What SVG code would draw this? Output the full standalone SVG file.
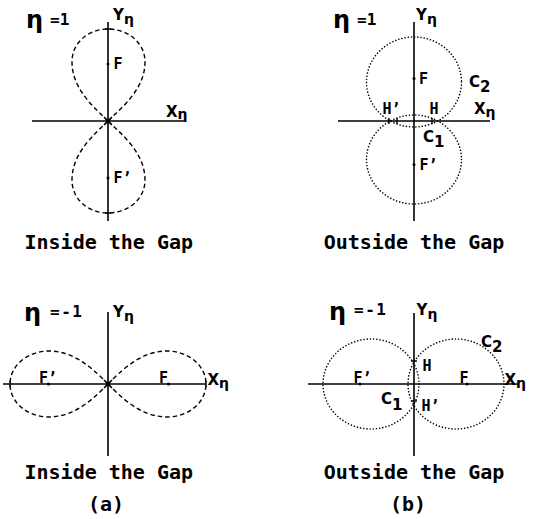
<svg xmlns="http://www.w3.org/2000/svg" width="536" height="519" viewBox="0 0 536 519">
<style>
.ax{stroke:#000;stroke-width:1.6;fill:none}
.tk{stroke:#000;stroke-width:1.4;fill:none}
.dash{stroke:#000;stroke-width:1.4;fill:none;stroke-dasharray:4.5 3}
.dot{stroke:#000;stroke-width:1.6;fill:none;stroke-dasharray:0.01 3.2;stroke-linecap:round}
.cap{font-family:"DejaVu Sans Mono","Liberation Mono",monospace;font-weight:bold;font-size:20px;fill:#000}
.lbl{font-family:"DejaVu Sans","Liberation Sans",sans-serif;font-weight:bold;font-size:15px;fill:#000}
.pt{font-family:"DejaVu Sans Mono","Liberation Mono",monospace;font-weight:bold;font-size:15px;fill:#000}
.eta{font-family:"DejaVu Sans","Liberation Sans",sans-serif;font-weight:bold;font-size:24px;fill:#000}
.num{font-family:"DejaVu Sans Mono","Liberation Mono",monospace;font-weight:bold;font-size:16px;fill:#000}
.pd{fill:#000}
</style>

<g id="panel-a-top">
  <g id="a-top-axes">
    <line class="ax" x1="108" y1="22" x2="108" y2="221"/>
    <line class="ax" x1="32" y1="121" x2="184" y2="121"/>
    <line class="tk" x1="105" y1="29" x2="111" y2="29"/>
    <line class="tk" x1="105" y1="213" x2="111" y2="213"/>
    <path class="tk" d="M104,117 L112,125 M104,125 L112,117"/>
    <circle class="pd" cx="108" cy="64" r="1.5"/>
    <circle class="pd" cx="108" cy="178" r="1.5"/>
  </g>
  <g id="a-top-curves">
    <path class="dash" d="M108,121 C96,109 72,90 72,62 C72,42 89,29 108,29 C127,29 145,42 145,62 C145,90 120,109 108,121 Z"/>
    <path class="dash" d="M108,121 C96,133 72,152 72,180 C72,200 89,213 108,213 C127,213 145,200 145,180 C145,152 120,133 108,121 Z"/>
  </g>
  <text class="eta" x="26" y="28">η</text>
  <text class="num" x="50" y="25">=1</text>
  <text class="lbl" x="113" y="20">Y<tspan font-size="14" dy="4">η</tspan></text>
  <text class="lbl" x="166" y="117">X<tspan font-size="14" dy="2">η</tspan></text>
  <text class="pt" x="113.5" y="69">F</text>
  <text class="pt" x="113.5" y="182.5">F’</text>
  <text class="cap" x="108.8" y="249" text-anchor="middle">Inside the Gap</text>
</g>

<g id="panel-b-top">
  <g id="b-top-axes">
    <line class="ax" x1="414" y1="22" x2="414" y2="221"/>
    <line class="ax" x1="338" y1="121" x2="490" y2="121"/>
    <line class="tk" x1="389" y1="118" x2="389" y2="124"/>
    <line class="tk" x1="397" y1="118" x2="397" y2="124"/>
    <line class="tk" x1="432" y1="118" x2="432" y2="124"/>
    <circle class="pd" cx="414" cy="78.5" r="1.5"/>
    <circle class="pd" cx="414" cy="164.5" r="1.5"/>
  </g>
  <g id="b-top-curves">
    <ellipse class="dot" cx="414" cy="82" rx="47.5" ry="45"/>
    <ellipse class="dot" cx="414" cy="159.5" rx="47.5" ry="44.5"/>
  </g>
  <text class="eta" x="333" y="28">η</text>
  <text class="num" x="357" y="25">=1</text>
  <text class="lbl" x="416" y="20">Y<tspan font-size="14" dy="4">η</tspan></text>
  <text class="lbl" x="474" y="113.5">X<tspan font-size="14" dy="3">η</tspan></text>
  <text class="lbl" x="469" y="87">C<tspan dy="5">2</tspan></text>
  <text class="lbl" x="423" y="142">C<tspan dy="5">1</tspan></text>
  <text class="pt" x="382.5" y="114">H’</text>
  <text class="pt" x="429.5" y="114">H</text>
  <text class="pt" x="419" y="84">F</text>
  <text class="pt" x="419.5" y="170">F’</text>
  <text class="cap" x="414" y="249" text-anchor="middle">Outside the Gap</text>
</g>

<g id="panel-a-bottom">
  <g id="a-bot-axes">
    <line class="ax" x1="108" y1="312" x2="108" y2="456"/>
    <line class="ax" x1="3" y1="384" x2="206" y2="384"/>
    <line class="tk" x1="10" y1="381" x2="10" y2="387"/>
    <line class="tk" x1="206" y1="381" x2="206" y2="387"/>
    <path class="tk" d="M104,380 L112,388 M104,388 L112,380"/>
    <circle class="pd" cx="48.5" cy="384" r="1.5"/>
    <circle class="pd" cx="168.5" cy="384" r="1.5"/>
  </g>
  <g id="a-bot-curves">
    <path class="dash" d="M108,384 C120,372 140,351 167,351 C189,351 206,366 206,384 C206,402 189,417 167,417 C140,417 120,396 108,384 Z"/>
    <path class="dash" d="M108,384 C96,372 76,351 49,351 C27,351 10,366 10,384 C10,402 27,417 49,417 C76,417 96,396 108,384 Z"/>
  </g>
  <text class="eta" x="24" y="321">η</text>
  <text class="num" x="50" y="317" letter-spacing="1.5">=-1</text>
  <text class="lbl" x="113" y="317">Y<tspan font-size="14" dy="4">η</tspan></text>
  <text class="lbl" x="207.5" y="385">X<tspan font-size="14" dy="3">η</tspan></text>
  <text class="pt" x="39" y="382.5">F’</text>
  <text class="pt" x="159" y="382.5">F</text>
  <text class="cap" x="108.8" y="478.5" text-anchor="middle">Inside the Gap</text>
  <text class="cap" x="106" y="511" text-anchor="middle" font-size="17">(a)</text>
</g>

<g id="panel-b-bottom">
  <g id="b-bot-axes">
    <line class="ax" x1="414" y1="313" x2="414" y2="456"/>
    <line class="ax" x1="308" y1="384" x2="518" y2="384"/>
    <line class="tk" x1="411" y1="361" x2="417" y2="361"/>
    <line class="tk" x1="411" y1="401" x2="417" y2="401"/>
    <circle class="pd" cx="360" cy="384" r="1.5"/>
    <circle class="pd" cx="467" cy="384" r="1.5"/>
  </g>
  <g id="b-bot-curves">
    <ellipse class="dot" cx="371" cy="384" rx="48" ry="45"/>
    <ellipse class="dot" cx="456" cy="384" rx="48" ry="45"/>
  </g>
  <text class="eta" x="329" y="320">η</text>
  <text class="num" x="354" y="315" letter-spacing="1.5">=-1</text>
  <text class="lbl" x="416.5" y="315">Y<tspan font-size="14" dy="4">η</tspan></text>
  <text class="lbl" x="481" y="347">C<tspan dy="5">2</tspan></text>
  <text class="lbl" x="504.5" y="385">X<tspan font-size="14" dy="3">η</tspan></text>
  <text class="pt" x="422.5" y="370.5">H</text>
  <text class="pt" x="421.5" y="410.5">H’</text>
  <text class="pt" x="353.5" y="383">F’</text>
  <text class="pt" x="459.5" y="383">F</text>
  <text class="lbl" x="381" y="403.5">C<tspan dy="6">1</tspan></text>
  <text class="cap" x="414" y="478.5" text-anchor="middle">Outside the Gap</text>
  <text class="cap" x="408" y="511" text-anchor="middle" font-size="17">(b)</text>
</g>
</svg>
